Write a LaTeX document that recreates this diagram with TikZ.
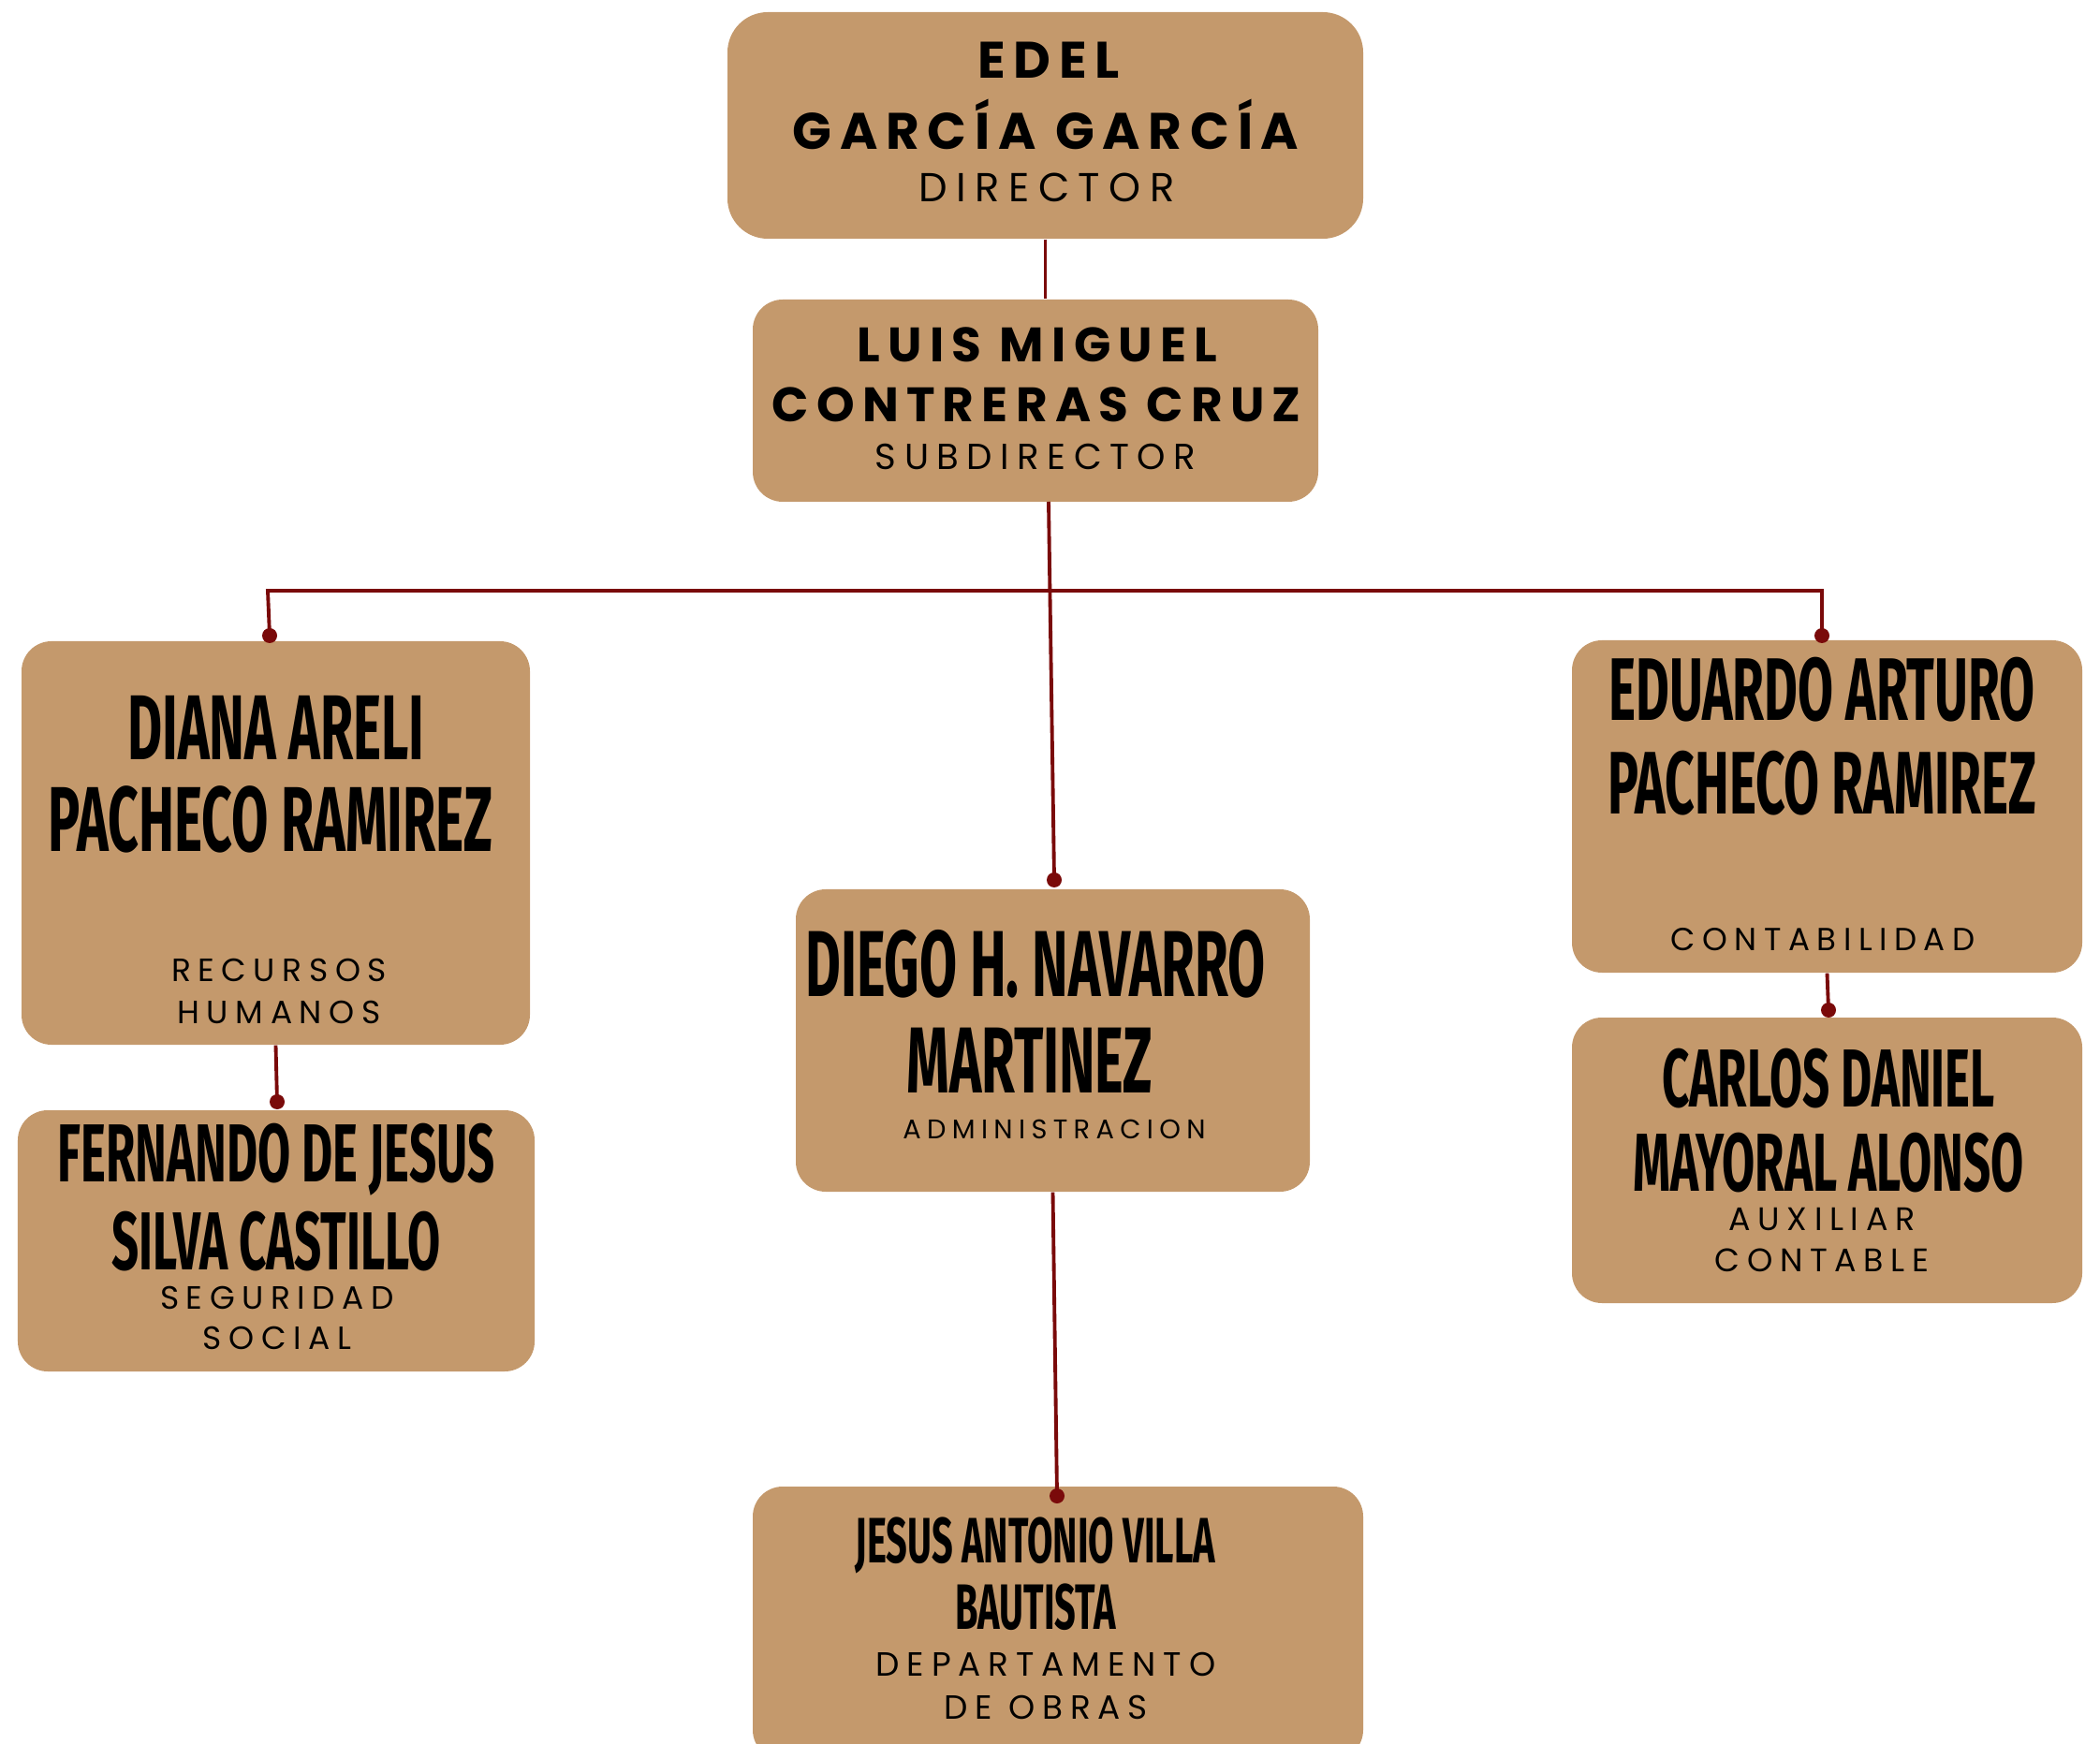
\documentclass[tikz,border=0pt]{standalone}
\usepackage{fontspec}
\usepackage{tikz}
\usetikzlibrary{positioning}
\newfontfamily\headfont[LetterSpace=16]{Poppins}
\newfontfamily\rolefont[LetterSpace=22]{Poppins}
\newfontfamily\namefont[FakeStretch=0.58]{Fira Sans}
\definecolor{boxtan}{HTML}{C4996C}
\definecolor{wine}{HTML}{7A0A0A}

\begin{document}
\begin{tikzpicture}[
  box/.style={fill=boxtan,rounded corners=0.32cm,inner sep=0pt},
  head/.style={inner sep=0pt,font=\headfont\bfseries\fontsize{#1}{#1}\selectfont},
  head/.default=14.7,
  role/.style={inner sep=0pt,font=\rolefont\fontsize{#1}{#1}\selectfont},
  role/.default=11,
  person/.style={inner sep=0pt,font=\namefont\bfseries\fontsize{#1}{#1}\selectfont},
  person/.default=25,
  link/.style={wine,line width=1.1pt},
  dot/.style={circle,fill=wine,inner sep=0pt,minimum size=0.16cm}
]
  \useasboundingbox (0,0) rectangle (22.43,-18.63);
  \node[box,rounded corners=0.43cm,minimum width=6.79cm,minimum height=2.42cm] (dir) at (11.165,-1.34) {};
  \node[box,minimum width=6.04cm,minimum height=2.16cm] (sub) at (11.06,-4.28) {};
  \node[box,minimum width=5.43cm,minimum height=4.31cm] (rh) at (2.945,-9.005) {};
  \node[box,minimum width=5.52cm,minimum height=2.79cm] (ss) at (2.95,-13.255) {};
  \node[box,minimum width=5.49cm,minimum height=3.23cm] (adm) at (11.245,-11.115) {};
  \node[box,minimum width=6.52cm,minimum height=2.92cm] (obr) at (11.30,-17.34) {};
  \node[box,minimum width=5.45cm,minimum height=3.55cm] (con) at (19.515,-8.615) {};
  \node[box,minimum width=5.45cm,minimum height=3.05cm] (aux) at (19.515,-12.395) {};

  \node[head=15.6] (dir1) at (11.20,-0.64) {EDEL};
  \node[head=15.6] (dir2) at (11.17,-1.33) {GARCÍA GARCÍA};
  \node[role=12.3] (dir3) at (11.18,-2.00) {DIRECTOR};
  \node[head] (sub1) at (11.08,-3.68) {LUIS MIGUEL};
  \node[head] (sub2) at (11.07,-4.32) {CONTRERAS CRUZ};
  \node[role] (sub3) at (11.06,-4.88) {SUBDIRECTOR};

  \node[person=28] (rh1) at (2.95,-7.77) {DIANA ARELI};
  \node[person=28] (rh2) at (2.89,-8.75) {PACHECO RAMIREZ};
  \node[role=9.8] (rh3) at (2.98,-10.36) {RECURSOS};
  \node[role=9.8] (rh4) at (2.98,-10.81) {HUMANOS};

  \node[person] (ss1) at (2.95,-12.39) {FERNANDO DE JESUS};
  \node[person] (ss2) at (2.95,-13.26) {SILVA CASTILLO};
  \node[role=9.8] (ss3) at (2.96,-13.86) {SEGURIDAD};
  \node[role=9.8] (ss4) at (2.96,-14.29) {SOCIAL};

  \node[person=28.5] (adm1) at (11.06,-10.30) {DIEGO H. NAVARRO};
  \node[person=28.5] (adm2) at (11.00,-11.33) {MARTINEZ};
  \node[role=8.2] (adm3) at (11.26,-12.06) {ADMINISTRACION};

  \node[person=19.5] (obr1) at (11.06,-16.51) {JESUS ANTONIO VILLA};
  \node[person=19.5] (obr2) at (11.06,-17.17) {BAUTISTA};
  \node[role=10.2] (obr3) at (11.17,-17.78) {DEPARTAMENTO};
  \node[role=10.2] (obr4) at (11.17,-18.24) {DE OBRAS};

  \node[person=27] (con1) at (19.46,-7.37) {EDUARDO ARTURO};
  \node[person=27] (con2) at (19.46,-8.37) {PACHECO RAMIREZ};
  \node[role=9.7] (con3) at (19.47,-10.04) {CONTABILIDAD};

  \node[person] (aux1) at (19.53,-11.52) {CARLOS DANIEL};
  \node[person] (aux2) at (19.53,-12.42) {MAYORAL ALONSO};
  \node[role=9.9] (aux3) at (19.46,-13.02) {AUXILIAR};
  \node[role=9.9] (aux4) at (19.46,-13.46) {CONTABLE};

  \coordinate (subout) at (11.20,-5.36);
  \coordinate (busl) at (2.86,-6.31);
  \coordinate (busr) at (19.46,-6.31);
  \node[dot] (rhdot) at (2.88,-6.79) {};
  \node[dot] (condot) at (19.46,-6.79) {};
  \node[dot] (admdot) at (11.26,-9.40) {};
  \node[dot] (obrdot) at (11.29,-15.98) {};
  \node[dot] (ssdot) at (2.96,-11.77) {};
  \node[dot] (auxdot) at (19.53,-10.79) {};

  \draw[link] (dir.south) -- (dir.south |- sub.north);
  \draw[link] (subout) -- (admdot.center);
  \draw[link] (rhdot.center) -- (busl) -- (busr) -- (condot.center);
  \draw[link] (rh.south) -- (ssdot.center);
  \draw[link] (adm.south) -- (obrdot.center);
  \draw[link] (con.south) -- (auxdot.center);
\end{tikzpicture}
\end{document}
